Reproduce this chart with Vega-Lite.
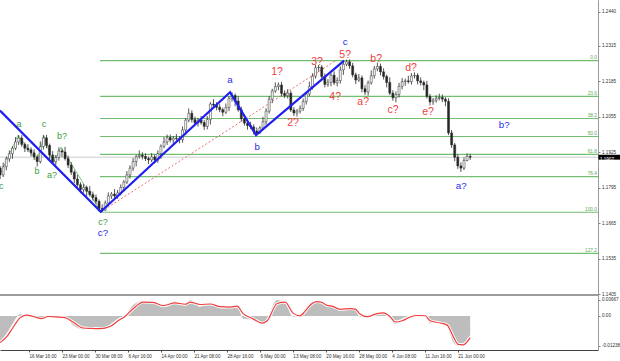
{
"$schema":"https://vega.github.io/schema/vega-lite/v6.json",
"autosize":{"type":"none"},
"padding":{"left":0,"top":0,"right":22,"bottom":11},
"width":598,
"height":350,
"background":"#ffffff",
"config":{"view":{"stroke":null},"font":"Liberation Sans","text":{"font":"Liberation Sans"}},
"datasets":{
"cur":[{"b":3.9,"b2":584,"p":1.1907}],
"sep":[{"b":3.9,"b2":584,"p":1.14015}],
"box":[{"b":584.4,"b2":606,"p":1.1898,"p2":1.1916,"t":"1.1907"}],
"fib":[{"b":100.9,"b2":584,"p":1.2261,"t":"0.0"},{"b":100.9,"b2":584,"p":1.2130,"t":"23.6"},{"b":100.9,"b2":584,"p":1.2049,"t":"38.2"},{"b":100.9,"b2":584,"p":1.1983,"t":"50.0"},{"b":100.9,"b2":584,"p":1.1917,"t":"61.8"},{"b":100.9,"b2":584,"p":1.1836,"t":"76.4"},{"b":100.9,"b2":584,"p":1.1705,"t":"100.0"},{"b":100.9,"b2":584,"p":1.1554,"t":"127.2"}],
"blue":[{"b":3.9,"p":1.2078,"k":0},{"b":101.6,"p":1.1707,"k":1},{"b":227.1,"p":1.2145,"k":2},{"b":252.3,"p":1.1988,"k":3},{"b":337.7,"p":1.2261,"k":4}],
"green":[{"b":3.9,"p":1.1842,"k":0},{"b":21.4,"p":1.1988,"k":1},{"b":39.8,"p":1.1893,"k":2},{"b":46.6,"p":1.1985,"k":3},{"b":55.3,"p":1.1882,"k":4},{"b":63.1,"p":1.1944,"k":5},{"b":101.6,"p":1.1707,"k":6}],
"red":[{"b":101.9,"p":1.1707,"k":0},{"b":329.9,"p":1.2262,"k":1}],
"labs":[{"b":5,"p":1.1801,"t":"c","g":"green"},{"b":22.3,"p":1.2029,"t":"a","g":"green"},{"b":39.8,"p":1.1856,"t":"b","g":"green"},{"b":46.6,"p":1.2029,"t":"c","g":"green"},{"b":54.4,"p":1.1842,"t":"a?","g":"green"},{"b":64.1,"p":1.1985,"t":"b?","g":"green"},{"b":103.8,"p":1.1669,"t":"c?","g":"green"},{"b":103.8,"p":1.1629,"t":"c?","g":"blue"},{"b":227.1,"p":1.2190,"t":"a","g":"blue"},{"b":253.3,"p":1.1944,"t":"b","g":"blue"},{"b":338.7,"p":1.2328,"t":"c","g":"blue"},{"b":493,"p":1.2025,"t":"b?","g":"blue"},{"b":451.3,"p":1.1801,"t":"a?","g":"blue"},{"b":272.7,"p":1.2220,"t":"1?","g":"red"},{"b":288.2,"p":1.2032,"t":"2?","g":"red"},{"b":311.5,"p":1.2256,"t":"3?","g":"red"},{"b":329,"p":1.2128,"t":"4?","g":"red"},{"b":338.7,"p":1.2282,"t":"5?","g":"red"},{"b":356.2,"p":1.2109,"t":"a?","g":"red"},{"b":368.8,"p":1.2267,"t":"b?","g":"red"},{"b":385.3,"p":1.2080,"t":"c?","g":"red"},{"b":402.7,"p":1.2234,"t":"d?","g":"red"},{"b":419.2,"p":1.2073,"t":"e?","g":"red"}],
"candles":[
{"b":4,"o":1.1867,"h":1.1875,"l":1.1827,"c":1.1842},
{"b":7,"o":1.1842,"h":1.1887,"l":1.1834,"c":1.1872},
{"b":10,"o":1.1872,"h":1.1910,"l":1.1859,"c":1.1901},
{"b":13,"o":1.1901,"h":1.1932,"l":1.1890,"c":1.1920},
{"b":16,"o":1.1920,"h":1.1947,"l":1.1901,"c":1.1940},
{"b":19,"o":1.1940,"h":1.1981,"l":1.1933,"c":1.1963},
{"b":22,"o":1.1963,"h":1.1988,"l":1.1952,"c":1.1977},
{"b":25,"o":1.1977,"h":1.1988,"l":1.1945,"c":1.1954},
{"b":28,"o":1.1954,"h":1.1961,"l":1.1926,"c":1.1940},
{"b":31,"o":1.1940,"h":1.1955,"l":1.1926,"c":1.1934},
{"b":34,"o":1.1934,"h":1.1943,"l":1.1910,"c":1.1923},
{"b":37,"o":1.1923,"h":1.1936,"l":1.1897,"c":1.1908},
{"b":40,"o":1.1908,"h":1.1916,"l":1.1873,"c":1.1891},
{"b":43,"o":1.1891,"h":1.1965,"l":1.1884,"c":1.1946},
{"b":46,"o":1.1946,"h":1.1989,"l":1.1935,"c":1.1978},
{"b":49,"o":1.1978,"h":1.1989,"l":1.1940,"c":1.1950},
{"b":52,"o":1.1950,"h":1.1957,"l":1.1900,"c":1.1915},
{"b":55,"o":1.1915,"h":1.1929,"l":1.1882,"c":1.1890},
{"b":58,"o":1.1890,"h":1.1915,"l":1.1877,"c":1.1906},
{"b":61,"o":1.1906,"h":1.1943,"l":1.1895,"c":1.1930},
{"b":64,"o":1.1930,"h":1.1938,"l":1.1908,"c":1.1926},
{"b":67,"o":1.1926,"h":1.1945,"l":1.1895,"c":1.1902},
{"b":70,"o":1.1902,"h":1.1913,"l":1.1867,"c":1.1878},
{"b":73,"o":1.1878,"h":1.1889,"l":1.1842,"c":1.1852},
{"b":76,"o":1.1852,"h":1.1859,"l":1.1812,"c":1.1827},
{"b":79,"o":1.1827,"h":1.1842,"l":1.1798,"c":1.1806},
{"b":82,"o":1.1806,"h":1.1815,"l":1.1775,"c":1.1788},
{"b":85,"o":1.1788,"h":1.1809,"l":1.1777,"c":1.1796},
{"b":88,"o":1.1796,"h":1.1803,"l":1.1764,"c":1.1782},
{"b":91,"o":1.1782,"h":1.1801,"l":1.1763,"c":1.1770},
{"b":94,"o":1.1770,"h":1.1781,"l":1.1748,"c":1.1759},
{"b":97,"o":1.1759,"h":1.1770,"l":1.1735,"c":1.1745},
{"b":100,"o":1.1745,"h":1.1752,"l":1.1707,"c":1.1719},
{"b":103,"o":1.1719,"h":1.1734,"l":1.1706,"c":1.1713},
{"b":106,"o":1.1713,"h":1.1748,"l":1.1710,"c":1.1739},
{"b":109,"o":1.1739,"h":1.1778,"l":1.1728,"c":1.1765},
{"b":112,"o":1.1765,"h":1.1779,"l":1.1754,"c":1.1772},
{"b":115,"o":1.1772,"h":1.1790,"l":1.1757,"c":1.1765},
{"b":118,"o":1.1765,"h":1.1787,"l":1.1754,"c":1.1776},
{"b":121,"o":1.1776,"h":1.1807,"l":1.1767,"c":1.1796},
{"b":124,"o":1.1796,"h":1.1823,"l":1.1781,"c":1.1816},
{"b":127,"o":1.1816,"h":1.1856,"l":1.1809,"c":1.1842},
{"b":130,"o":1.1842,"h":1.1877,"l":1.1829,"c":1.1867},
{"b":133,"o":1.1867,"h":1.1904,"l":1.1856,"c":1.1891},
{"b":136,"o":1.1891,"h":1.1916,"l":1.1873,"c":1.1909},
{"b":139,"o":1.1909,"h":1.1932,"l":1.1902,"c":1.1914},
{"b":142,"o":1.1914,"h":1.1925,"l":1.1899,"c":1.1910},
{"b":145,"o":1.1910,"h":1.1921,"l":1.1893,"c":1.1902},
{"b":148,"o":1.1902,"h":1.1909,"l":1.1882,"c":1.1897},
{"b":151,"o":1.1897,"h":1.1922,"l":1.1889,"c":1.1908},
{"b":154,"o":1.1908,"h":1.1917,"l":1.1884,"c":1.1897},
{"b":157,"o":1.1897,"h":1.1932,"l":1.1886,"c":1.1920},
{"b":160,"o":1.1920,"h":1.1954,"l":1.1901,"c":1.1947},
{"b":163,"o":1.1947,"h":1.1981,"l":1.1940,"c":1.1963},
{"b":166,"o":1.1963,"h":1.1990,"l":1.1952,"c":1.1979},
{"b":169,"o":1.1979,"h":1.1990,"l":1.1961,"c":1.1970},
{"b":172,"o":1.1970,"h":1.1985,"l":1.1955,"c":1.1977},
{"b":175,"o":1.1977,"h":1.1992,"l":1.1967,"c":1.1975},
{"b":178,"o":1.1975,"h":1.1984,"l":1.1958,"c":1.1971},
{"b":181,"o":1.1971,"h":1.2020,"l":1.1960,"c":1.2007},
{"b":184,"o":1.2007,"h":1.2050,"l":1.1988,"c":1.2043},
{"b":187,"o":1.2043,"h":1.2086,"l":1.2035,"c":1.2068},
{"b":190,"o":1.2068,"h":1.2079,"l":1.2034,"c":1.2045},
{"b":193,"o":1.2045,"h":1.2056,"l":1.2024,"c":1.2033},
{"b":196,"o":1.2033,"h":1.2051,"l":1.2019,"c":1.2043},
{"b":199,"o":1.2043,"h":1.2058,"l":1.2026,"c":1.2034},
{"b":202,"o":1.2034,"h":1.2043,"l":1.2007,"c":1.2020},
{"b":205,"o":1.2020,"h":1.2058,"l":1.2009,"c":1.2045},
{"b":208,"o":1.2045,"h":1.2109,"l":1.2027,"c":1.2102},
{"b":211,"o":1.2102,"h":1.2120,"l":1.2091,"c":1.2098},
{"b":214,"o":1.2098,"h":1.2109,"l":1.2079,"c":1.2090},
{"b":217,"o":1.2090,"h":1.2101,"l":1.2072,"c":1.2081},
{"b":220,"o":1.2081,"h":1.2089,"l":1.2057,"c":1.2072},
{"b":223,"o":1.2072,"h":1.2104,"l":1.2065,"c":1.2089},
{"b":226,"o":1.2089,"h":1.2131,"l":1.2076,"c":1.2122},
{"b":229,"o":1.2122,"h":1.2145,"l":1.2111,"c":1.2133},
{"b":232,"o":1.2133,"h":1.2141,"l":1.2094,"c":1.2113},
{"b":235,"o":1.2113,"h":1.2131,"l":1.2074,"c":1.2081},
{"b":238,"o":1.2081,"h":1.2092,"l":1.2037,"c":1.2048},
{"b":241,"o":1.2048,"h":1.2059,"l":1.2023,"c":1.2032},
{"b":244,"o":1.2032,"h":1.2039,"l":1.2008,"c":1.2023},
{"b":247,"o":1.2023,"h":1.2037,"l":1.2010,"c":1.2018},
{"b":250,"o":1.2018,"h":1.2027,"l":1.1990,"c":1.2003},
{"b":253,"o":1.2003,"h":1.2016,"l":1.1988,"c":1.1996},
{"b":256,"o":1.1996,"h":1.2021,"l":1.1992,"c":1.2014},
{"b":259,"o":1.2014,"h":1.2055,"l":1.2006,"c":1.2037},
{"b":262,"o":1.2037,"h":1.2087,"l":1.2026,"c":1.2076},
{"b":265,"o":1.2076,"h":1.2131,"l":1.2067,"c":1.2120},
{"b":268,"o":1.2120,"h":1.2158,"l":1.2105,"c":1.2150},
{"b":271,"o":1.2150,"h":1.2181,"l":1.2143,"c":1.2166},
{"b":274,"o":1.2166,"h":1.2181,"l":1.2153,"c":1.2172},
{"b":277,"o":1.2172,"h":1.2183,"l":1.2130,"c":1.2141},
{"b":280,"o":1.2141,"h":1.2152,"l":1.2124,"c":1.2133},
{"b":283,"o":1.2133,"h":1.2157,"l":1.2122,"c":1.2142},
{"b":286,"o":1.2142,"h":1.2151,"l":1.2073,"c":1.2080},
{"b":289,"o":1.2080,"h":1.2091,"l":1.2058,"c":1.2069},
{"b":292,"o":1.2069,"h":1.2084,"l":1.2056,"c":1.2076},
{"b":295,"o":1.2076,"h":1.2097,"l":1.2067,"c":1.2086},
{"b":298,"o":1.2086,"h":1.2122,"l":1.2077,"c":1.2111},
{"b":301,"o":1.2111,"h":1.2146,"l":1.2100,"c":1.2139},
{"b":304,"o":1.2139,"h":1.2184,"l":1.2131,"c":1.2166},
{"b":307,"o":1.2166,"h":1.2215,"l":1.2155,"c":1.2204},
{"b":310,"o":1.2204,"h":1.2246,"l":1.2195,"c":1.2235},
{"b":313,"o":1.2235,"h":1.2245,"l":1.2220,"c":1.2237},
{"b":316,"o":1.2237,"h":1.2245,"l":1.2196,"c":1.2203},
{"b":319,"o":1.2203,"h":1.2214,"l":1.2163,"c":1.2174},
{"b":322,"o":1.2174,"h":1.2193,"l":1.2165,"c":1.2182},
{"b":325,"o":1.2182,"h":1.2215,"l":1.2167,"c":1.2208},
{"b":328,"o":1.2208,"h":1.2222,"l":1.2172,"c":1.2180},
{"b":331,"o":1.2180,"h":1.2200,"l":1.2167,"c":1.2188},
{"b":334,"o":1.2188,"h":1.2240,"l":1.2177,"c":1.2227},
{"b":337,"o":1.2227,"h":1.2256,"l":1.2209,"c":1.2248},
{"b":340,"o":1.2248,"h":1.2265,"l":1.2241,"c":1.2257},
{"b":343,"o":1.2257,"h":1.2265,"l":1.2231,"c":1.2242},
{"b":346,"o":1.2242,"h":1.2253,"l":1.2200,"c":1.2209},
{"b":349,"o":1.2209,"h":1.2217,"l":1.2175,"c":1.2190},
{"b":352,"o":1.2190,"h":1.2212,"l":1.2183,"c":1.2198},
{"b":355,"o":1.2198,"h":1.2207,"l":1.2145,"c":1.2158},
{"b":358,"o":1.2158,"h":1.2171,"l":1.2135,"c":1.2146},
{"b":361,"o":1.2146,"h":1.2188,"l":1.2133,"c":1.2180},
{"b":364,"o":1.2180,"h":1.2225,"l":1.2173,"c":1.2206},
{"b":367,"o":1.2206,"h":1.2242,"l":1.2195,"c":1.2231},
{"b":370,"o":1.2231,"h":1.2254,"l":1.2222,"c":1.2240},
{"b":373,"o":1.2240,"h":1.2250,"l":1.2207,"c":1.2220},
{"b":376,"o":1.2220,"h":1.2233,"l":1.2192,"c":1.2203},
{"b":379,"o":1.2203,"h":1.2210,"l":1.2163,"c":1.2181},
{"b":382,"o":1.2181,"h":1.2200,"l":1.2135,"c":1.2142},
{"b":385,"o":1.2142,"h":1.2153,"l":1.2114,"c":1.2125},
{"b":388,"o":1.2125,"h":1.2148,"l":1.2108,"c":1.2137},
{"b":391,"o":1.2137,"h":1.2180,"l":1.2126,"c":1.2167},
{"b":394,"o":1.2167,"h":1.2197,"l":1.2156,"c":1.2184},
{"b":397,"o":1.2184,"h":1.2195,"l":1.2169,"c":1.2187},
{"b":400,"o":1.2187,"h":1.2206,"l":1.2177,"c":1.2184},
{"b":403,"o":1.2184,"h":1.2216,"l":1.2173,"c":1.2205},
{"b":406,"o":1.2205,"h":1.2218,"l":1.2196,"c":1.2207},
{"b":409,"o":1.2207,"h":1.2215,"l":1.2174,"c":1.2187},
{"b":412,"o":1.2187,"h":1.2200,"l":1.2170,"c":1.2181},
{"b":415,"o":1.2181,"h":1.2188,"l":1.2153,"c":1.2172},
{"b":418,"o":1.2172,"h":1.2187,"l":1.2122,"c":1.2130},
{"b":421,"o":1.2130,"h":1.2139,"l":1.2097,"c":1.2110},
{"b":424,"o":1.2110,"h":1.2124,"l":1.2099,"c":1.2116},
{"b":427,"o":1.2116,"h":1.2134,"l":1.2107,"c":1.2123},
{"b":430,"o":1.2123,"h":1.2140,"l":1.2115,"c":1.2126},
{"b":433,"o":1.2126,"h":1.2137,"l":1.2109,"c":1.2120},
{"b":436,"o":1.2120,"h":1.2127,"l":1.2094,"c":1.2112},
{"b":439,"o":1.2112,"h":1.2123,"l":1.1988,"c":1.1996},
{"b":442,"o":1.1996,"h":1.2007,"l":1.1941,"c":1.1952},
{"b":445,"o":1.1952,"h":1.1959,"l":1.1892,"c":1.1907},
{"b":448,"o":1.1907,"h":1.1918,"l":1.1864,"c":1.1875},
{"b":451,"o":1.1875,"h":1.1888,"l":1.1853,"c":1.1867},
{"b":454,"o":1.1867,"h":1.1906,"l":1.1860,"c":1.1895},
{"b":457,"o":1.1895,"h":1.1921,"l":1.1892,"c":1.1910},
{"b":460,"o":1.1910,"h":1.1919,"l":1.1897,"c":1.1907}
],
"osc":[
{"b":3.9,"h":-0.0107,"s":-0.0111},{"b":10.7,"h":-0.0070,"s":-0.0085},{"b":16.5,"h":-0.0030,"s":-0.0048},{"b":23.3,"h":0.0007,"s":-0.0008},{"b":29.5,"h":0.0001,"s":0.0004},{"b":35.9,"h":-0.0005,"s":-0.0002},{"b":44.7,"h":-0.0014,"s":-0.0011},{"b":50.5,"h":0.0004,"s":-0.0002},{"b":59.2,"h":-0.0010,"s":-0.0004},{"b":67,"h":-0.0004,"s":-0.0007},{"b":74.7,"h":-0.0038,"s":-0.0025},{"b":84.4,"h":-0.0056,"s":-0.0050},{"b":94.1,"h":-0.0049,"s":-0.0052},{"b":100.9,"h":-0.0056,"s":-0.0053},{"b":110.6,"h":-0.0035,"s":-0.0044},{"b":118.4,"h":-0.0010,"s":-0.0020},{"b":125.2,"h":0.0004,"s":-0.0002},{"b":133,"h":0.0046,"s":0.0030},{"b":142.7,"h":0.0063,"s":0.0058},{"b":152.4,"h":0.0053,"s":0.0057},{"b":162.1,"h":0.0039,"s":0.0043},{"b":173.7,"h":0.0060,"s":0.0055},{"b":183.4,"h":0.0043,"s":0.0049},{"b":188.3,"h":0.0067,"s":0.0058},{"b":198,"h":0.0039,"s":0.0048},{"b":207.7,"h":0.0053,"s":0.0050},{"b":217.4,"h":0.0032,"s":0.0039},{"b":227.1,"h":0.0039,"s":0.0037},{"b":233.9,"h":0.0043,"s":0.0041},{"b":239.7,"h":-0.0010,"s":0.0010},{"b":249.4,"h":-0.0017,"s":-0.0012},{"b":258.1,"h":-0.0035,"s":-0.0030},{"b":263,"h":-0.0010,"s":-0.0020},{"b":272.7,"h":0.0067,"s":0.0052},{"b":280.5,"h":0.0053,"s":0.0058},{"b":288.2,"h":-0.0003,"s":0.0012},{"b":295,"h":0.0004,"s":0.0001},{"b":299.9,"h":0.0030,"s":0.0020},{"b":304.7,"h":0.0053,"s":0.0045},{"b":311.5,"h":0.0062,"s":0.0060},{"b":316.4,"h":0.0053,"s":0.0056},{"b":321.2,"h":0.0039,"s":0.0044},{"b":326.1,"h":0.0042,"s":0.0041},{"b":333.8,"h":0.0021,"s":0.0028},{"b":343.5,"h":0.0035,"s":0.0031},{"b":348.4,"h":0.0025,"s":0.0029},{"b":353.2,"h":-0.0003,"s":0.0008},{"b":360,"h":-0.0004,"s":-0.0003},{"b":369.7,"h":0.0015,"s":0.0010},{"b":375.6,"h":0.0012,"s":0.0013},{"b":382.4,"h":-0.0010,"s":-0.0003},{"b":387.2,"h":-0.0033,"s":-0.0025},{"b":394,"h":-0.0010,"s":-0.0020},{"b":401.8,"h":0.0000,"s":-0.0004},{"b":408.6,"h":0.0003,"s":0.0002},{"b":416.3,"h":0.0000,"s":0.0001},{"b":421.2,"h":-0.0030,"s":-0.0020},{"b":430.9,"h":-0.0028,"s":-0.0029},{"b":437.7,"h":-0.0045,"s":-0.0038},{"b":443.5,"h":-0.0107,"s":-0.0085},{"b":448.3,"h":-0.0124,"s":-0.0118},{"b":453.2,"h":-0.0114,"s":-0.0120},{"b":460,"h":-0.0079,"s":-0.0090}
]
},
"encoding":{"x":{"field":"b","type":"quantitative","scale":{"domain":[3.9,584],"nice":false,"zero":false,"padding":0},"axis":{"title":null,"grid":false,"values":[0,32,64,96,128,160,192,224,256,288,320,352,384,416,448],"labelExpr":"['9 Mar 08:00','16 Mar 16:00','23 Mar 00:00','30 Mar 08:00','6 Apr 16:00','14 Apr 00:00','21 Apr 08:00','28 Apr 16:00','6 May 00:00','13 May 08:00','20 May 16:00','28 May 00:00','4 Jun 08:00','11 Jun 16:00','21 Jun 00:00'][round(datum.value/32)]","labelAlign":"left","labelBaseline":"top","labelPadding":1,"tickSize":2,"tickColor":"#555555","domainColor":"#444444","labelFontSize":4.6,"labelColor":"#303030","labelFont":"Liberation Sans","labelFlush":false,"labelOverlap":false,"labelBound":false}}},
"layer":[
{"layer":[
{"data":{"name":"cur"},"mark":{"type":"rule","color":"#cccccc","strokeWidth":1},
"encoding":{"x2":{"field":"b2"},"y":{"field":"p","type":"quantitative","scale":{"domain":[1.11998,1.24836],"nice":false,"zero":false},"axis":{"title":null,"orient":"right","grid":false,"values":[1.1405,1.147,1.1535,1.16,1.1665,1.173,1.1795,1.186,1.1925,1.199,1.2055,1.212,1.2185,1.225,1.2315,1.238,1.244],"format":".4f","labelFontSize":4.6,"labelColor":"#303030","labelFont":"Liberation Sans","tickSize":2,"tickColor":"#808080","domainColor":"#9a9a9a","labelPadding":1.5,"labelFlush":false,"labelOverlap":false,"labelBound":false}}}},
{"data":{"name":"sep"},"mark":{"type":"rule","color":"#3a3a3a","strokeWidth":1},
"encoding":{"x2":{"field":"b2"},"y":{"field":"p","type":"quantitative","title":null}}},
{"data":{"name":"fib"},"mark":{"type":"rule","color":"#72bf72","strokeWidth":1.2},
"encoding":{"x2":{"field":"b2"},"y":{"field":"p","type":"quantitative","title":null}}},
{"data":{"name":"fib"},"mark":{"type":"text","color":"#5aa95a","fontSize":4.8,"align":"right","baseline":"bottom","dx":-1,"dy":-0.6},
"encoding":{"x":{"field":"b2","type":"quantitative","title":null},"y":{"field":"p","type":"quantitative","title":null},"text":{"field":"t"}}},
{"data":{"name":"green"},"mark":{"type":"line","color":"#7cc67c","strokeWidth":1},
"encoding":{"y":{"field":"p","type":"quantitative","title":null},"order":{"field":"k"}}},
{"data":{"name":"red"},"mark":{"type":"line","color":"#f07070","strokeWidth":1,"strokeDash":[2,2]},
"encoding":{"y":{"field":"p","type":"quantitative","title":null},"order":{"field":"k"}}},
{"data":{"name":"candles"},"mark":{"type":"rule","color":"#2a2a2a","strokeWidth":0.8},
"encoding":{"y":{"field":"l","type":"quantitative","title":null},"y2":{"field":"h"}}},
{"data":{"name":"candles"},"mark":{"type":"bar","size":2,"strokeWidth":0.5,"stroke":"#262626"},
"encoding":{"y":{"field":"o","type":"quantitative","title":null},"y2":{"field":"c"},"fill":{"condition":{"test":"datum.c >= datum.o","value":"#ffffff"},"value":"#262626"}}},
{"data":{"name":"blue"},"mark":{"type":"line","color":"#1f1ff0","strokeWidth":2.2},
"encoding":{"y":{"field":"p","type":"quantitative","title":null},"order":{"field":"k"}}},
{"data":{"name":"labs"},"mark":{"type":"text","align":"center","baseline":"middle"},
"encoding":{"y":{"field":"p","type":"quantitative","title":null},"text":{"field":"t"},
"color":{"field":"g","type":"nominal","scale":{"domain":["green","blue","red"],"range":["#3c9c3c","#2a2af0","#f04040"]},"legend":null},
"size":{"field":"g","type":"nominal","scale":{"domain":["green","blue","red"],"range":[9,10.5,8]},"legend":null}}},
{"data":{"name":"box"},"mark":{"type":"rect","color":"#000000"},
"encoding":{"x2":{"field":"b2"},"y":{"field":"p","type":"quantitative","title":null},"y2":{"field":"p2"}}},
{"data":{"name":"box"},"mark":{"type":"text","color":"#ffffff","fontSize":4.6,"align":"left","baseline":"middle","dx":1.5},
"encoding":{"y":{"field":"p","type":"quantitative","title":null},"text":{"field":"t"}}}
]},
{"data":{"name":"osc"},
"layer":[
{"mark":{"type":"area","color":"#bdbdbd","interpolate":"monotone"},
"encoding":{"y":{"field":"h","type":"quantitative","scale":{"domain":[-0.014173,0.13172],"nice":false,"zero":false},"axis":{"title":null,"orient":"right","grid":false,"values":[0.00667,0,-0.01238],"labelExpr":"datum.value > 0.001 ? '0.00667' : (datum.value < -0.001 ? '-0.01238' : '0.00')","labelFontSize":4.6,"labelColor":"#303030","labelFont":"Liberation Sans","tickSize":2,"tickColor":"#808080","domainColor":"#9a9a9a","labelPadding":1.5,"labelFlush":false,"labelOverlap":false,"labelBound":false}},"y2":{"datum":0}}},
{"mark":{"type":"line","color":"#ffffff","strokeWidth":3,"interpolate":"monotone"},
"encoding":{"y":{"field":"s","type":"quantitative","title":null}}},
{"mark":{"type":"line","color":"#f03c3c","strokeWidth":1.2,"interpolate":"monotone"},
"encoding":{"y":{"field":"s","type":"quantitative","title":null}}}
]}
],
"resolve":{"scale":{"y":"independent"}}
}
